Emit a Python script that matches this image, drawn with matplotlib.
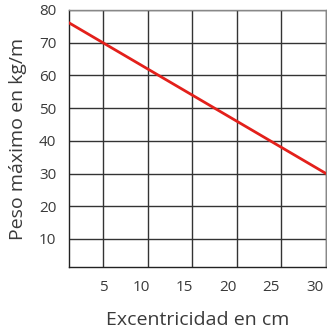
import matplotlib.pyplot as plt
from matplotlib.transforms import ScaledTranslation

# datos
excentricidad = [0, 30]
peso_max = [78, 30]
x_ticks = [5, 10, 15, 20, 25, 30]
y_ticks = [10, 20, 30, 40, 50, 60, 70, 80]

plt.rcParams['font.family'] = ['Open Sans', 'DejaVu Sans']

fig = plt.figure(figsize=(3.27, 3.33), dpi=100)
ax = fig.add_axes([0.211, 0.198, 0.786, 0.772])

ax.plot(excentricidad, peso_max, color='#e3201b', lw=2, zorder=3)

ax.set_xlim(1.2, 30)
ax.set_ylim(1.4, 80)
ax.set_xticks(x_ticks)
ax.set_yticks(y_ticks)
ax.grid(True, color='#333333', lw=1)
ax.tick_params(length=0, pad=9, labelsize=11, labelcolor='#3a3a3a')

# las etiquetas del eje x no caen justo en la rejilla
shifts = [0, -6, -8, -9, -10, -11]
for lab, dx in zip(ax.get_xticklabels(), shifts):
    lab.set_transform(lab.get_transform() + ScaledTranslation(dx / 100, 0, fig.dpi_scale_trans))

for s in ['left', 'bottom']:
    ax.spines[s].set_color('#222222')
for s in ['top', 'right']:
    ax.spines[s].set_color('#888888')
for s in ax.spines.values():
    s.set_linewidth(1)

ax.set_xlabel('Excentricidad en cm', fontsize=14, color='#3a3a3a', labelpad=12)
ax.set_ylabel('Peso máximo en kg/m', fontsize=14, color='#3a3a3a', labelpad=9)

fig.savefig('out.png', dpi=100)
